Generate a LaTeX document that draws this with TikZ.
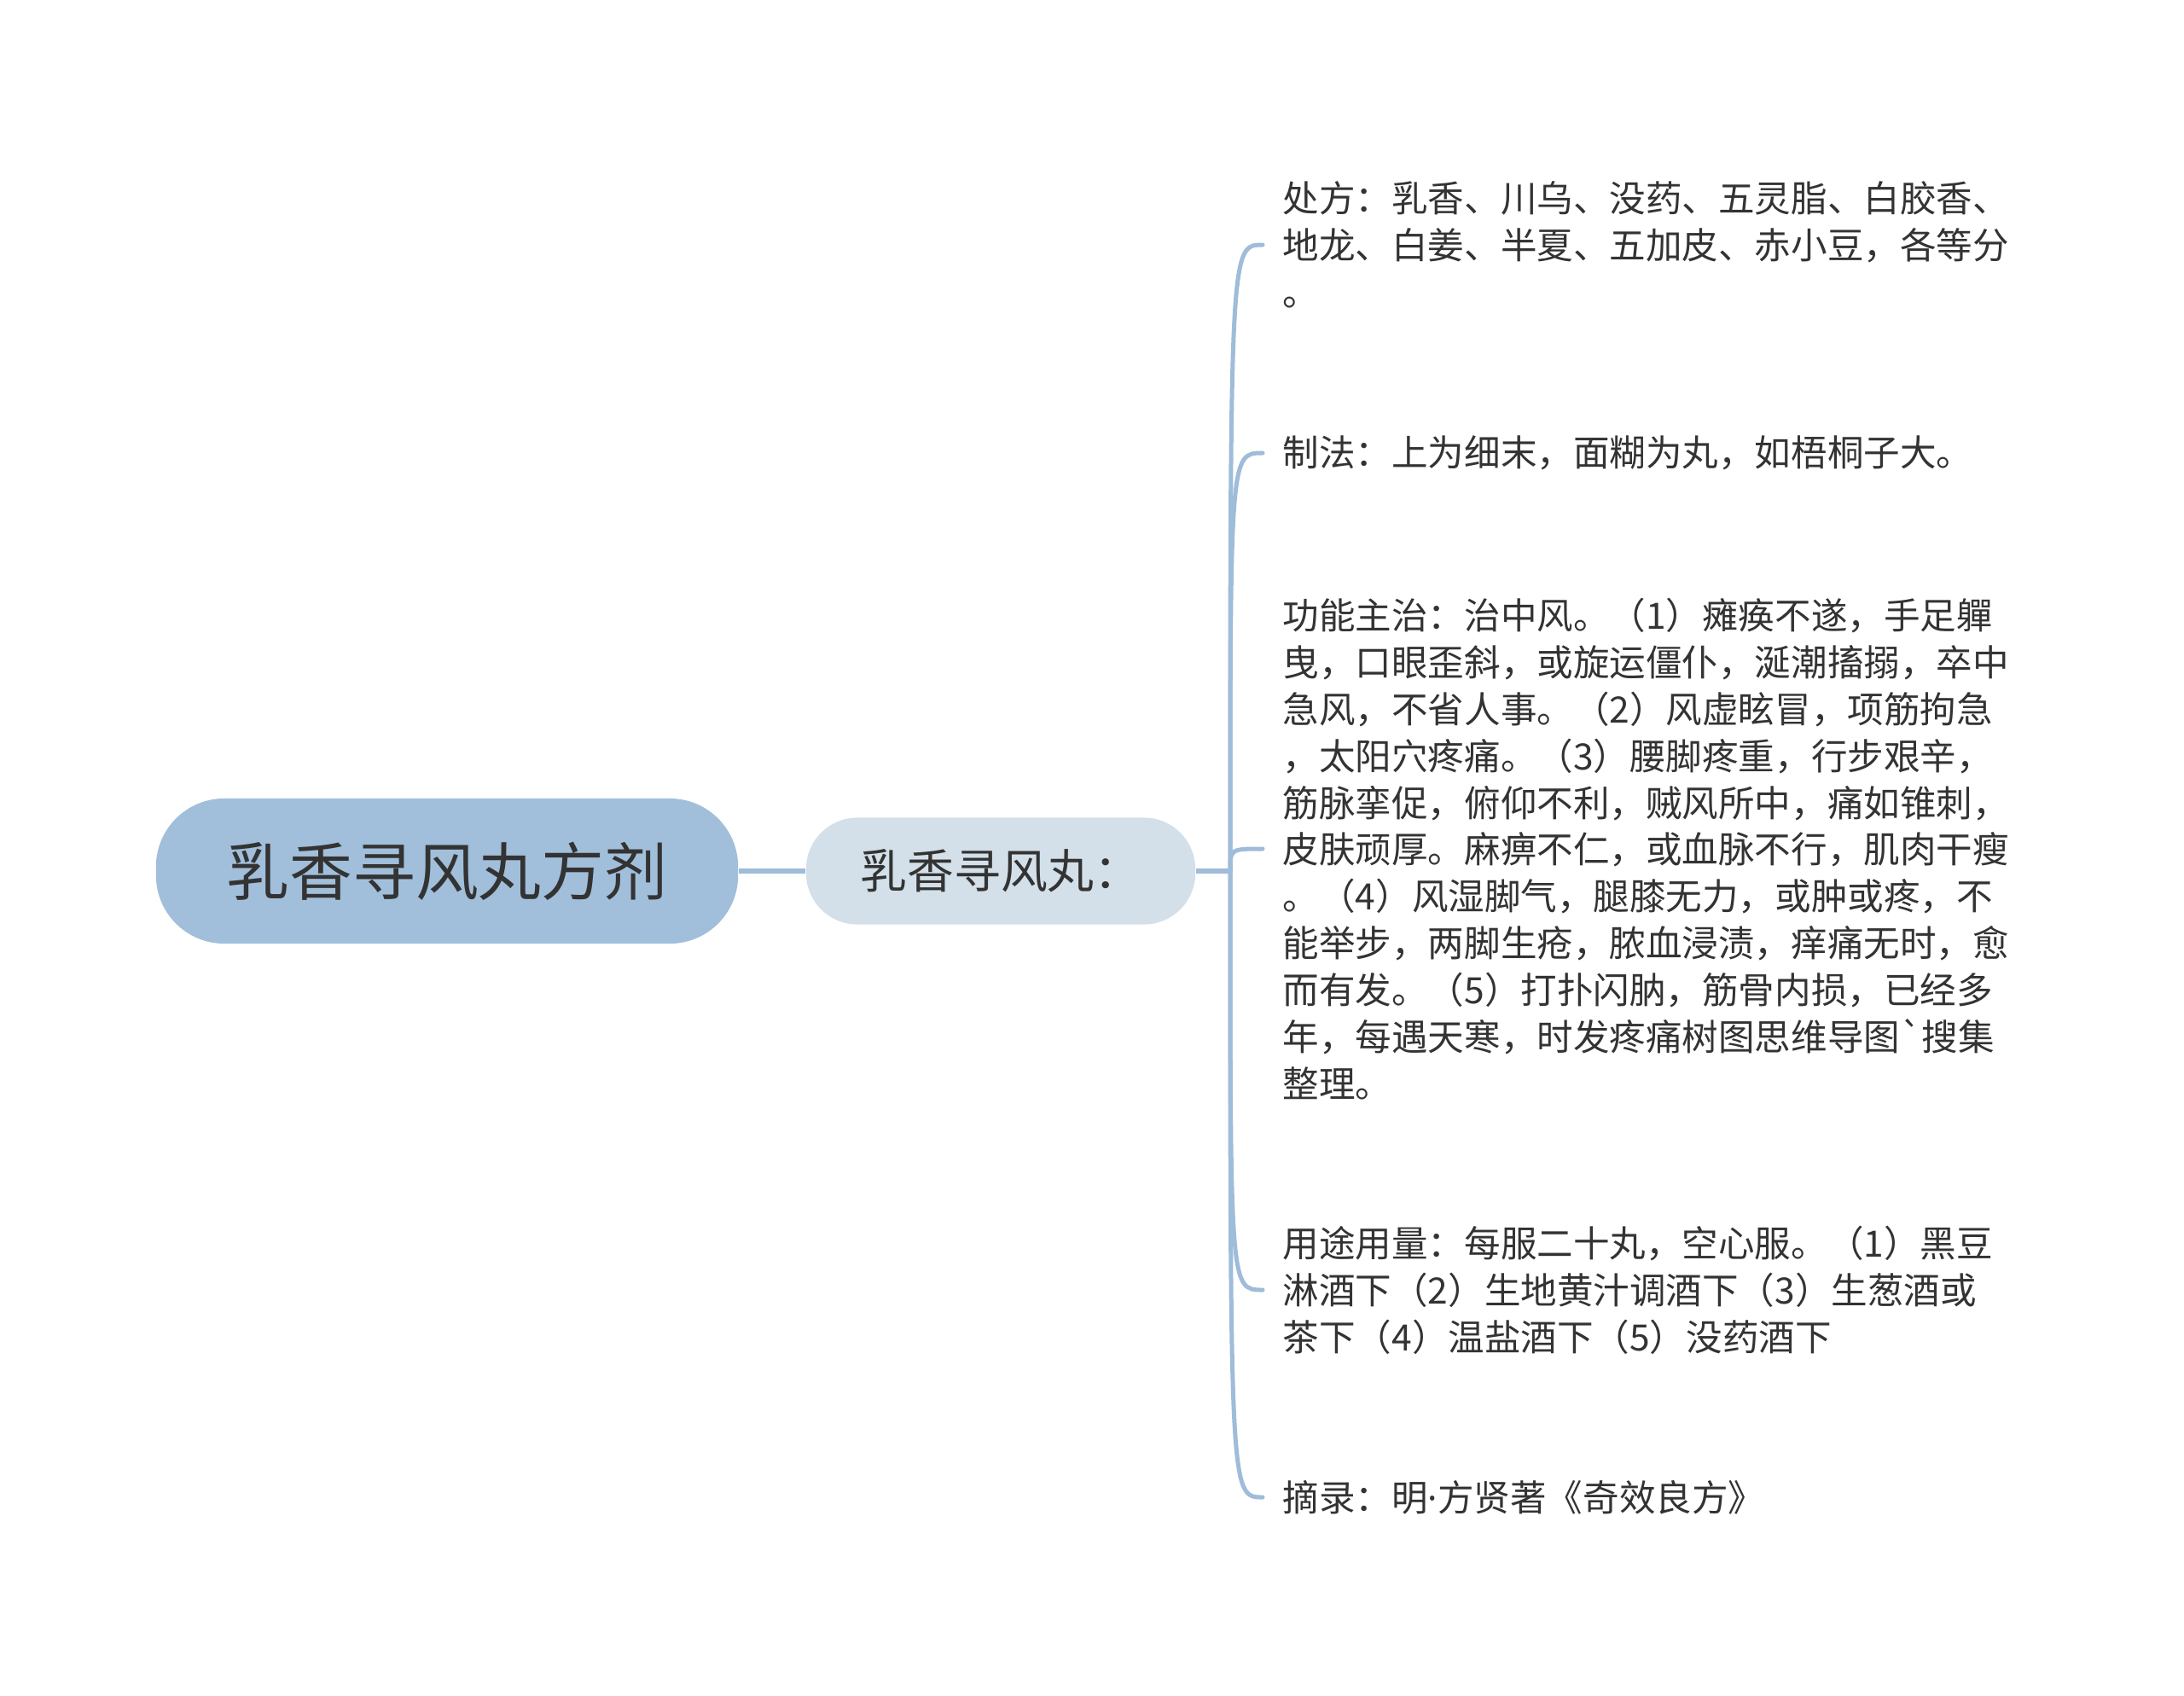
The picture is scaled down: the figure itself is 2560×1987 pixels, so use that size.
\documentclass[tikz,border=0pt]{standalone}
\usepackage{fontspec}
\setmainfont{Noto Sans CJK SC}
\newfontfamily\latinfont{Noto Sans}
\usepackage{xcolor}
\usetikzlibrary{calc, positioning}

\definecolor{RootBlue}{HTML}{A1BFDB}
\definecolor{SubBlue}{HTML}{D3E0EA}
\definecolor{LinkBlue}{HTML}{9FBCD9}
\definecolor{InkGray}{HTML}{333333}

\begin{document}
\begin{tikzpicture}[
    x=0.01cm, y=-0.01cm,
    root/.style={rectangle, rounded corners=0.8cm, fill=RootBlue, text=InkGray, minimum width=6.82cm, minimum height=1.70cm, inner sep=0pt, font=\fontsize{21pt}{24pt}\selectfont},
    topic/.style={rectangle, rounded corners=0.6cm, fill=SubBlue, text=InkGray, minimum width=4.56cm, minimum height=1.25cm, inner sep=0pt, font=\fontsize{15.6pt}{18pt}\selectfont},
    leaf/.style={anchor=west, align=left, inner xsep=0.23cm, inner ysep=0pt, text=InkGray, font=\fontsize{12.1pt}{15.6pt}\selectfont},
    link/.style={draw=LinkBlue, line width=0.06cm},
    branch/.style={draw=LinkBlue, line width=0.05cm, line cap=round}
  ]

  \fill[white] (0,0) rectangle (2560,1987);

  % Nodes (manual layout to match figure)
  \node[root] (R) at (524,1021) {乳香寻风丸方剂};
  \node[topic] (T) at (1173,1021) {乳香寻风丸：};
  \coordinate (hub) at (1442,1021);

  \node[leaf] (L1) at (1480,287) {处方：乳香、川乌、没药、五灵脂、白胶香、\\地龙、白姜、半夏、五加皮、赤小豆，各等分\\。};
  \node[leaf] (L2) at (1480,531) {制法：上为细末，面糊为丸，如梧桐子大。};
  \node[leaf] (L3) at (1480,995) {功能主治：治中风。（1）瘫痪不遂，手足軃\\曳，口眼歪斜，或旋运僵仆，涎潮搐搦，卒中\\急风，不省人事。（2）风虚眩冒，项筋拘急\\，太阳穴疼痛。（3）腰脚疼重，行步艰辛，\\筋脉挛促，俯仰不利，贼风所中，痛如锥刺，\\皮肤顽厚。麻痹不仁，或血脉不行，肌肉干瘦\\。（4）风湿脚气，腿膝无力，或肿或疼，不\\能举步，两脚生疮，脓血浸渍，痒痛无时，愈\\而有发。（5）打扑闪肭，筋骨内损，已经多\\年，每遇天寒，时发疼痛树图思维导图\textasciigrave 搜集\\整理。};
  \node[leaf] (L4) at (1480,1512) {用途用量：每服二十丸，空心服。（1）黑豆\\淋酒下（2）生地黄汁调酒下（3）生葱酒或\\茶下（4）温盐酒下（5）没药酒下};
  \node[leaf] (L5) at (1480,1755) {摘录：明{\latinfont ·}方贤著《奇效良方》};

  % Edges
  \draw[link] (R) -- (T);
  \draw[link] (T) -- (hub);
  \foreach \leaf in {L1,L2,L3,L4,L5}
    \draw[branch] (hub) .. controls (hub |- \leaf.west) .. (\leaf.west);

\end{tikzpicture}
\end{document}
